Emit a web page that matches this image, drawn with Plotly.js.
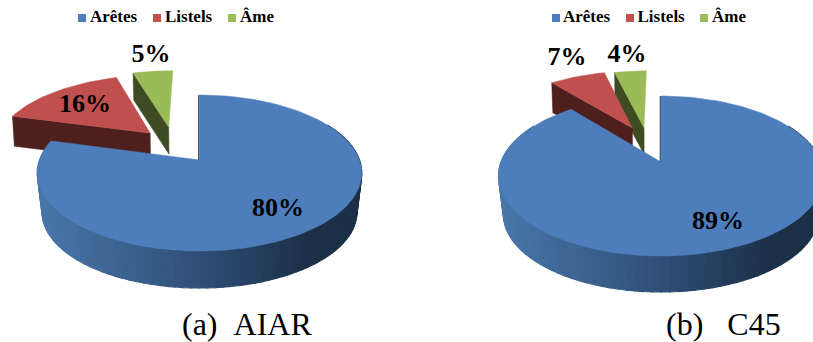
<!DOCTYPE html>
<html>
<head>
<meta charset="utf-8">
<script src="https://cdn.plot.ly/plotly-3.0.1.min.js"></script>
<style>html,body{margin:0;padding:0;background:#fff}#chart{width:813px;height:342px}</style>
</head>
<body>
<div id="chart"></div>
<script>
// ---- data ----
const categories = ['Arêtes', 'Listels', 'Âme'];
const valuesAIAR = [80, 16, 5];
const valuesC45 = [89, 7, 4];
const captionAIAR = '(a)  AIAR';
const captionC45 = '(b)   C45';

// ---- styles ----
const topColors = ['#4d7ebb', '#c0504d', '#9bbb59'];
const faceColors = ['#1d3049', '#4d1f1d', '#3e4b23'];
const sideStops = [[-160, [74, 119, 170]], [0, [47, 79, 120]], [105, [28, 48, 72]], [400, [28, 48, 72]]];
const FONT = '"Liberation Serif", "Times New Roman", serif';

// ---- geometry of each tilted pie ----
const panelA = {
  values: valuesAIAR, xc: 199.5, yc: 160, A: 160, B: 75.83, k: 1 / 6, depth: 39.7, scale: 0.97,
  explode: [[0, 0], [0.5, -41], [0.51, -24]], sliceDepth: [0, 30, 27],
  legendX: [82, 157, 232], legendTextX: [90, 165, 240],
  labels: [[278, 209], [85, 105], [151, 55]], caption: [247, 324]
};
const panelB = {
  values: valuesC45, xc: 661, yc: 162, A: 160, B: 77.55, k: 0.175, depth: 38.8, scale: 0.97,
  explode: [[0, 0], [0.512, -22.3], [0.493, -13.5]], sliceDepth: [0, 30, 27],
  legendX: [556, 630, 704], legendTextX: [563, 637.5, 712],
  labels: [[718, 222], [567, 58], [627, 55]], caption: [723, 324]
};

const rad = d => d * Math.PI / 180;
function project(p, phi, e, dirDeg, r) {
  const u = r * Math.sin(rad(phi)) + e * Math.sin(rad(dirDeg));
  const v = r * Math.cos(rad(phi)) + e * Math.cos(rad(dirDeg));
  const w = 1 + p.k * v;
  return [p.A * u / w, p.B * v / w];
}
function sideColor(x) {
  for (let i = 1; i < sideStops.length; i++) {
    const [x0, c0] = sideStops[i - 1], [x1, c1] = sideStops[i];
    if (x <= x1) {
      const t = Math.max(0, (x - x0) / (x1 - x0));
      const c = c0.map((a, j) => Math.round(a + (c1[j] - a) * t));
      return `rgb(${c.join(',')})`;
    }
  }
  return `rgb(${sideStops[sideStops.length - 1][1].join(',')})`;
}
function poly(xs, ys, color, lw) {
  return { type: 'scatter', mode: 'lines', x: xs, y: ys, fill: 'toself', fillcolor: color,
    line: { color: color, width: lw === undefined ? 0.5 : lw }, hoverinfo: 'skip', showlegend: false };
}

function panelTraces(p) {
  const total = p.values.reduce((a, b) => a + b, 0);
  const traces = [];
  // slice angle spans, clockwise from 12 o'clock
  let start = 0;
  const spans = p.values.map(v => { const s = [start, start + v / total * 360]; start = s[1]; return s; });

  // exploded slices, drawn behind the main one
  [2, 1].forEach(i => {
    const [a0, a1] = spans[i];
    const [e, dir] = p.explode[i];
    const d = p.sliceDepth[i];
    const apex = project(p, 0, e, dir, 0);
    const rim0 = project(p, a0, e, dir, 1);
    const toX = q => p.xc + q[0], toY = q => p.yc - q[1];
    traces.push(poly(
      [toX(apex), toX(rim0), p.xc + rim0[0] * 0.99, p.xc + apex[0] * 0.99, toX(apex)],
      [toY(apex), toY(rim0), toY(rim0) + d, toY(apex) + d, toY(apex)], faceColors[i]));
    const xs = [toX(apex)], ys = [toY(apex)];
    for (let s = 0; s <= 24; s++) {
      const q = project(p, a0 + (a1 - a0) * s / 24, e, dir, 1);
      xs.push(toX(q)); ys.push(toY(q));
    }
    xs.push(toX(apex)); ys.push(toY(apex));
    traces.push(poly(xs, ys, topColors[i]));
  });

  // wall of the main slice, one strip per step so that the shade can change
  const [b0, b1] = spans[0];
  const steps = 90;
  const wallFrom = 60, wallTo = Math.min(b1, 300);
  for (let s = 0; s < steps; s++) {
    const a = wallFrom + (wallTo - wallFrom) * s / steps;
    const c = wallFrom + (wallTo - wallFrom) * (s + 1) / steps;
    const q0 = project(p, a, 0, 0, 1), q1 = project(p, c, 0, 0, 1);
    const xt0 = p.xc + q0[0], xt1 = p.xc + q1[0];
    const yt0 = p.yc - q0[1], yt1 = p.yc - q1[1];
    const xb0 = p.xc + q0[0] * p.scale, xb1 = p.xc + q1[0] * p.scale;
    const yb0 = p.yc + p.depth - q0[1] * p.scale, yb1 = p.yc + p.depth - q1[1] * p.scale;
    traces.push(poly([xt0, xt1, xb1, xb0, xt0], [yt0, yt1, yb1, yb0, yt0], sideColor((q0[0] + q1[0]) / 2 * p.scale), 1.2));
  }

  // top of the main slice
  const xs = [p.xc], ys = [p.yc];
  for (let s = 0; s <= 160; s++) {
    const q = project(p, b0 + (b1 - b0) * s / 160, 0, 0, 1);
    xs.push(p.xc + q[0]); ys.push(p.yc - q[1]);
  }
  xs.push(p.xc); ys.push(p.yc);
  traces.push(poly(xs, ys, topColors[0]));

  // thin dark cut edge at 12 o'clock
  const q = project(p, b0, 0, 0, 1);
  traces.push({ type: 'scatter', mode: 'lines', x: [p.xc - 0.8, p.xc + q[0] - 0.8], y: [p.yc, p.yc - q[1]],
    line: { color: faceColors[0], width: 1 }, hoverinfo: 'skip', showlegend: false });

  // percentage labels
  traces.push({ type: 'scatter', mode: 'text', x: p.labels.map(l => l[0]), y: p.labels.map(l => l[1]),
    text: p.values.map(v => v + '%'), textposition: 'middle center',
    textfont: { family: FONT, size: 26, color: '#000', weight: 'bold' }, hoverinfo: 'skip', showlegend: false });

  // legend row
  traces.push({ type: 'scatter', mode: 'markers', x: p.legendX, y: categories.map(() => 18),
    marker: { symbol: 'square', size: 8, color: topColors }, hoverinfo: 'skip', showlegend: false });
  traces.push({ type: 'scatter', mode: 'text', x: p.legendTextX, y: categories.map(() => 18),
    text: categories, textposition: 'middle right',
    textfont: { family: FONT, size: 17, color: '#000', weight: 'bold' }, hoverinfo: 'skip', showlegend: false });
  return traces;
}

const captions = [[panelA, captionAIAR], [panelB, captionC45]].map(([p, t]) => ({
  x: p.caption[0], y: p.caption[1], xref: 'x', yref: 'y', text: t.replace(/ /g, '&nbsp;'), showarrow: false,
  xanchor: 'center', yanchor: 'middle', font: { family: FONT, size: 32, color: '#000' }
}));

const hidden = { visible: false, fixedrange: true };
Plotly.newPlot('chart', [...panelTraces(panelA), ...panelTraces(panelB)], {
  width: 813, height: 342, margin: { l: 0, r: 0, t: 0, b: 0 },
  paper_bgcolor: '#fff', plot_bgcolor: '#fff', showlegend: false,
  xaxis: { ...hidden, range: [0, 813] },
  yaxis: { ...hidden, range: [342, 0] },
  annotations: captions
}, { staticPlot: true, displayModeBar: false });
</script>
</body>
</html>
